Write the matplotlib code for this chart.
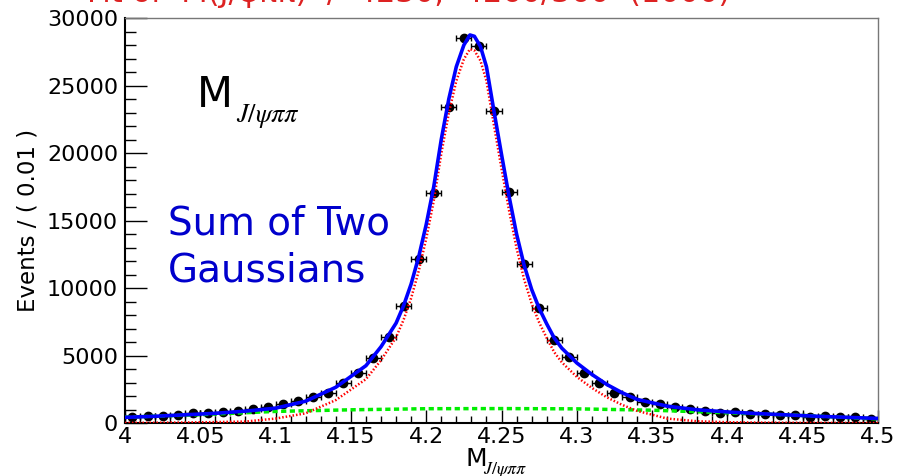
import numpy as np
import matplotlib
matplotlib.use('Agg')
import matplotlib.pyplot as plt
from matplotlib.ticker import MultipleLocator

# Binned data (bin width 0.01)
bin_centres = [4.005, 4.015, 4.025, 4.035, 4.045, 4.055, 4.065, 4.075, 4.085, 4.095,
               4.105, 4.115, 4.125, 4.135, 4.145, 4.155, 4.165, 4.175, 4.185, 4.195,
               4.205, 4.215, 4.225, 4.235, 4.245, 4.255, 4.265, 4.275, 4.285, 4.295,
               4.305, 4.315, 4.325, 4.335, 4.345, 4.355, 4.365, 4.375, 4.385, 4.395,
               4.405, 4.415, 4.425, 4.435, 4.445, 4.455, 4.465, 4.475, 4.485, 4.495]
counts = [420, 500, 520, 570, 720, 720, 840, 910, 1020, 1210,
          1410, 1650, 1950, 2250, 2950, 3740, 4800, 6400, 8640, 12180,
          17050, 23440, 28540, 27950, 23090, 17100, 11780, 8500, 6160, 4920,
          3740, 2950, 2250, 1900, 1540, 1390, 1210, 1060, 890, 770,
          790, 670, 670, 590, 570, 450, 520, 430, 450, 320]

# fit curves, sampled by eye from the reference
curve_x = [4.0, 4.02, 4.04, 4.06, 4.08, 4.1, 4.12, 4.14, 4.16, 4.17, 4.18, 4.185,
           4.19, 4.195, 4.2, 4.205, 4.21, 4.215, 4.22, 4.225, 4.229, 4.232, 4.236,
           4.24, 4.245, 4.25, 4.255, 4.26, 4.265, 4.27, 4.275, 4.28, 4.285, 4.29,
           4.3, 4.31, 4.32, 4.33, 4.34, 4.36, 4.38, 4.4, 4.42, 4.44, 4.46, 4.48, 4.5]
total_fit = [420, 500, 610, 720, 880, 1100, 1620, 2650, 4250, 5650, 7400, 8700,
             10300, 12300, 14700, 17500, 21000, 24000, 26400, 28000, 28750, 28650, 27900,
             26400, 23100, 19900, 16800, 14000, 11700, 9900, 8500, 7350, 6300, 5550,
             4450, 3600, 2850, 2250, 1750, 1250, 980, 820, 700, 600, 500, 420, 340]
peak_fit = [10, 20, 40, 70, 110, 330, 720, 1700, 3250, 4650, 6350, 7650,
            9250, 11250, 13650, 16450, 19950, 22950, 25350, 26950, 27700, 27600, 26850,
            25350, 22050, 18850, 15750, 12950, 10650, 8850, 7450, 6300, 5250, 4500,
            3420, 2600, 1900, 1350, 900, 330, 130, 60, 30, 20, 10, 5, 0]
bkg_x = [4.0, 4.05, 4.1, 4.15, 4.2, 4.25, 4.3, 4.35, 4.4, 4.45, 4.5]
bkg_fit = [430, 620, 860, 980, 1060, 1070, 1050, 950, 760, 560, 300]

plt.rcParams['font.family'] = ['DejaVu Sans']
plt.rcParams['mathtext.fontset'] = 'stix'

fig = plt.figure(figsize=(8.99, 4.76), dpi=100)
ax = fig.add_axes([0.139, 0.1113, 0.8377, 0.8507])

ax.errorbar(bin_centres, counts, xerr=0.005, yerr=np.sqrt(counts), fmt='o',
            color='black', markersize=6, elinewidth=1, capsize=2, capthick=1, zorder=2)
ax.plot(bkg_x, bkg_fit, color='#00ee00', lw=2.5, ls=(0, (1.5, 1)), zorder=3)
ax.plot(curve_x, peak_fit, color='#ff0000', lw=1.8, ls=(0, (0.6, 0.8)), zorder=3)
ax.plot(curve_x, total_fit, color='#0000ff', lw=2.6, zorder=4)

ax.set_xlim(4.0, 4.5)
ax.set_ylim(0, 30000)
ax.xaxis.set_minor_locator(MultipleLocator(0.01))
ax.yaxis.set_major_locator(MultipleLocator(5000))
ax.yaxis.set_minor_locator(MultipleLocator(1000))
ax.set_xticks([4.0, 4.05, 4.1, 4.15, 4.2, 4.25, 4.3, 4.35, 4.4, 4.45, 4.5])
ax.set_xticklabels(['4', '4.05', '4.1', '4.15', '4.2', '4.25', '4.3', '4.35', '4.4', '4.45', '4.5'])

ax.tick_params(axis='both', which='both', direction='in', labelsize=16,
               top=False, right=False, width=1)
ax.tick_params(axis='y', which='major', length=15.5, pad=5)
ax.tick_params(axis='y', which='minor', length=8)
ax.tick_params(axis='x', which='major', length=9.5, pad=3)
ax.tick_params(axis='x', which='minor', length=5)

for side in ['top', 'right']:
    ax.spines[side].set_color('#777777')
    ax.spines[side].set_linewidth(1)
for side in ['left', 'bottom']:
    ax.spines[side].set_color('black')
    ax.spines[side].set_linewidth(1.5)

ax.set_ylabel('Events / ( 0.01 )', fontsize=16.5, labelpad=5)

# labels inside the frame
ax.text(4.048, 23390, 'M', fontsize=30, va='baseline', ha='left')
ax.text(4.0735, 22300, r'$J/\psi\pi\pi$', fontsize=19, va='baseline', ha='left')
ax.text(4.0285, 13960, 'Sum of Two', fontsize=28, color='#0000cc', va='baseline')
ax.text(4.0285, 10490, 'Gaussians', fontsize=28, color='#0000cc', va='baseline')

# x axis title
fig.text(465 / 899, 1 - 466 / 476, 'M', fontsize=18, va='baseline', ha='left')
fig.text(483 / 899, 1 - 474 / 476, r'$J/\psi\pi\pi$', fontsize=13, va='baseline', ha='left')

# title, mostly cut off at the top edge
fig.text(87 / 899, 1 - 2.5 / 476, 'Fit of  M(J/\u03c8\u03c0\u03c0)  /  4230,  4260/360  (1000)',
         fontsize=22, color='#dd2222', ha='left', va='baseline')

fig.savefig('out.png', dpi=100)
plt.close()
